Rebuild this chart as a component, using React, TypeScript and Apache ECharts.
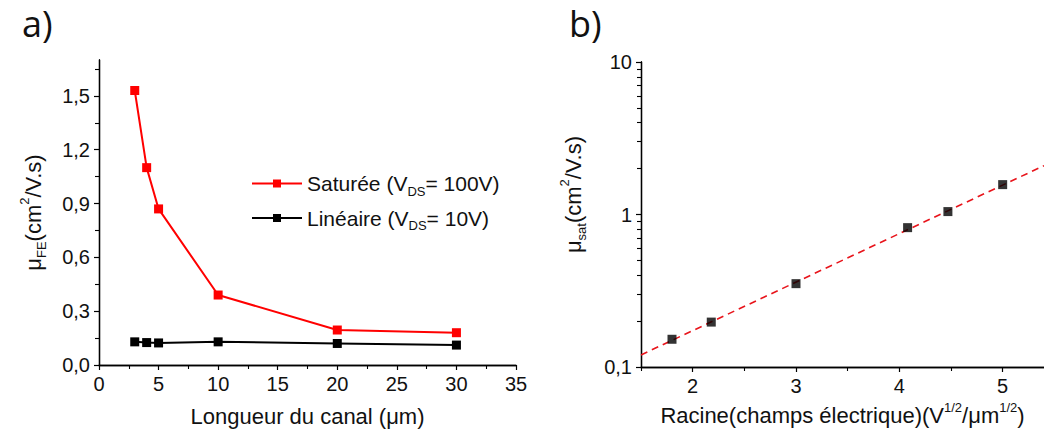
import React, { useEffect, useRef } from "react";
import * as echarts from "echarts";

// Panel a) : channel length (µm) vs field-effect mobility
const channelLength = [3, 4, 5, 10, 20, 30];
const mobilitySat = [1.53, 1.1, 0.87, 0.39, 0.195, 0.18];
const mobilityLin = [0.129, 0.125, 0.123, 0.129, 0.12, 0.111];
const leftYLabels = [0, 0.3, 0.6, 0.9, 1.2, 1.5];
const leftYMinor = [0.15, 0.45, 0.75, 1.05, 1.35, 1.65];
const leftXLabels = [0, 5, 10, 15, 20, 25, 30, 35];
const leftXMinor = [2.5, 7.5, 12.5, 17.5, 22.5, 27.5, 32.5];

// Panel b) : sqrt(electric field) vs saturation mobility (log)
const sqrtField = [1.8, 2.18, 3.0, 4.08, 4.47, 5.0];
const muSat = [0.152, 0.197, 0.352, 0.82, 1.045, 1.57];
const fitX = [1.5, 5.4];
const fitY = [0.12, 2.09];
const rightXLabels = [2, 3, 4, 5];
const rightXMinor = [1.5, 2.5, 3.5, 4.5];
const rightYMinor = [0.2, 0.3, 0.4, 0.5, 0.6, 0.7, 0.8, 0.9, 2, 3, 4, 5, 6, 7, 8, 9];

const FONT = "Liberation Sans";
const SAT_NAME = "Saturée (VDS= 100V)";
const LIN_NAME = "Linéaire (VDS= 10V)";

const comma = (v: number) => String(Number(v.toPrecision(3))).replace(".", ",");

export default function App() {
  const ref = useRef<HTMLDivElement>(null);
  useEffect(() => {
    document.body.style.margin = "0";
    const chart = echarts.init(ref.current!, null, { renderer: "svg" });
    const axisLine = { onZero: false, lineStyle: { color: "#000", width: 1.3 } };
    const labelStyle = { color: "#111", fontSize: 20, fontFamily: FONT };
    const richBase = {
      m: { fontSize: 22, lineHeight: 30, fontFamily: FONT, color: "#111" },
      sub: { fontSize: 13, lineHeight: 13, verticalAlign: "bottom", fontFamily: FONT, color: "#111" },
      sup: { fontSize: 13, lineHeight: 13, verticalAlign: "top", fontFamily: FONT, color: "#111" },
    };
    const minorAxisCommon = {
      axisLine: { show: true, onZero: false, lineStyle: { color: "#000", width: 1.3 } },
      axisLabel: { show: false },
      splitLine: { show: false },
    };
    const minorTick = { show: true, length: 4, lineStyle: { color: "#000", width: 1.1 } };
    chart.setOption({
      animation: false,
      backgroundColor: "#fff",
      title: [
        { text: "a)", left: 17, top: 0, textStyle: { fontFamily: "Open Sans", fontSize: 36, fontWeight: "normal", color: "#111" } },
        { text: "b)", left: 564, top: 0, textStyle: { fontFamily: "Open Sans", fontSize: 36, fontWeight: "normal", color: "#111" } },
      ],
      grid: [
        { left: 99, top: 60, width: 417, height: 306 },
        { left: 641, top: 62, width: 403, height: 305 },
        // helper grid over panel b), only for the minor ticks of the log axis
        { left: 641, top: 62, width: 403, height: 305 },
      ],
      legend: {
        orient: "vertical",
        left: 246,
        top: 168,
        itemWidth: 50,
        itemHeight: 10,
        itemGap: 10,
        data: [SAT_NAME, LIN_NAME],
        formatter: (name: string) =>
          name === SAT_NAME
            ? "{t|Saturée (V}{sub|DS}{t|= 100V)}"
            : "{t|Linéaire (V}{sub|DS}{t|= 10V)}",
        textStyle: {
          rich: {
            t: { fontSize: 21, lineHeight: 28, fontFamily: FONT, color: "#111" },
            sub: { fontSize: 13, lineHeight: 13, verticalAlign: "bottom", fontFamily: FONT, color: "#111" },
          },
        },
      },
      xAxis: [
        {
          type: "value", gridIndex: 0, min: 0, max: 35, interval: 5, position: "bottom",
          name: "Longueur du canal (μm)", nameLocation: "middle", nameGap: 40,
          nameTextStyle: { fontSize: 22, fontFamily: FONT, color: "#111" },
          axisLine,
          axisTick: { length: 5, lineStyle: { color: "#000", width: 1.2 }, customValues: leftXLabels },
          axisLabel: { ...labelStyle, margin: 9, customValues: leftXLabels },
          splitLine: { show: false },
        },
        {
          type: "value", gridIndex: 0, min: 0, max: 35, interval: 5, position: "bottom",
          ...minorAxisCommon,
          axisTick: { ...minorTick, customValues: leftXMinor },
        },
        {
          type: "value", gridIndex: 1, min: 1.5, max: 5.4, interval: 0.5, position: "bottom",
          name: "{m|Racine(champs électrique)(V}{sup|1/2}{m|/μm}{sup|1/2}{m|)}",
          nameLocation: "middle", nameGap: 28,
          nameTextStyle: { rich: richBase },
          axisLine,
          axisTick: { length: 5, lineStyle: { color: "#000", width: 1.2 }, customValues: rightXLabels },
          axisLabel: { ...labelStyle, margin: 9, customValues: rightXLabels },
          splitLine: { show: false },
        },
        {
          type: "value", gridIndex: 1, min: 1.5, max: 5.4, interval: 0.5, position: "bottom",
          ...minorAxisCommon,
          axisTick: { ...minorTick, customValues: rightXMinor },
        },
        {
          type: "value", gridIndex: 2, min: 1.5, max: 5.4, interval: 0.5, position: "bottom",
          show: false,
        },
      ],
      yAxis: [
        {
          type: "value", gridIndex: 0, min: 0, max: 1.7, interval: 0.3, position: "left",
          name: "{m|μ}{sub|FE}{m|(cm}{sup|2}{m|/V.s)}",
          nameLocation: "middle", nameGap: 51, nameRotate: 90,
          nameTextStyle: { rich: richBase },
          axisLine,
          axisTick: { length: 5, lineStyle: { color: "#000", width: 1.2 }, customValues: leftYLabels },
          axisLabel: { ...labelStyle, margin: 9, customValues: leftYLabels, formatter: (v: number) => v.toFixed(1).replace(".", ",") },
          splitLine: { show: false },
        },
        {
          type: "value", gridIndex: 0, min: 0, max: 1.7, interval: 0.3, position: "left",
          ...minorAxisCommon,
          axisTick: { ...minorTick, customValues: leftYMinor },
        },
        {
          type: "log", gridIndex: 1, min: 0.1, max: 10, logBase: 10, position: "left",
          name: "{m|μ}{sub|sat}{m|(cm}{sup|2}{m|/V.s)}",
          nameLocation: "middle", nameGap: 53, nameRotate: 90,
          nameTextStyle: { rich: richBase, padding: [0, 0, 0, 40] },
          axisLine,
          axisTick: { length: 5, lineStyle: { color: "#000", width: 1.2 } },
          axisLabel: { ...labelStyle, margin: 9, formatter: (v: number) => comma(v) },
          splitLine: { show: false },
        },
        {
          // helper axis measured in decades above 0.1, carrying only the minor ticks of the log axis
          type: "value", gridIndex: 2, min: 0, max: 2, interval: 1, position: "left",
          ...minorAxisCommon,
          axisTick: { ...minorTick, customValues: rightYMinor.map((v) => Math.log10(v) + 1) },
        },
      ],
      series: [
        {
          name: SAT_NAME, type: "line", xAxisIndex: 0, yAxisIndex: 0,
          data: channelLength.map((x, i) => [x, mobilitySat[i]]),
          symbol: "rect", symbolSize: 9, color: "#ff0000",
          lineStyle: { width: 2, color: "#ff0000" }, itemStyle: { color: "#ff0000" },
        },
        {
          name: LIN_NAME, type: "line", xAxisIndex: 0, yAxisIndex: 0,
          data: channelLength.map((x, i) => [x, mobilityLin[i]]),
          symbol: "rect", symbolSize: 9, color: "#000",
          lineStyle: { width: 2, color: "#000" }, itemStyle: { color: "#000" },
        },
        {
          name: "fit", type: "line", xAxisIndex: 2, yAxisIndex: 2, z: 1,
          data: fitX.map((x, i) => [x, fitY[i]]),
          showSymbol: false, symbol: "none",
          lineStyle: { width: 1.6, color: "#e8141b", type: [7, 5] },
        },
        {
          name: "muSat", type: "scatter", xAxisIndex: 2, yAxisIndex: 2, z: 3,
          data: sqrtField.map((x, i) => [x, muSat[i]]),
          symbol: "rect", symbolSize: 9, itemStyle: { color: "#000" },
        },
      ],
    });
    return () => chart.dispose();
  }, []);
  return <div ref={ref} style={{ position: "fixed", left: 0, top: 0, width: 1044, height: 432 }} />;
}
